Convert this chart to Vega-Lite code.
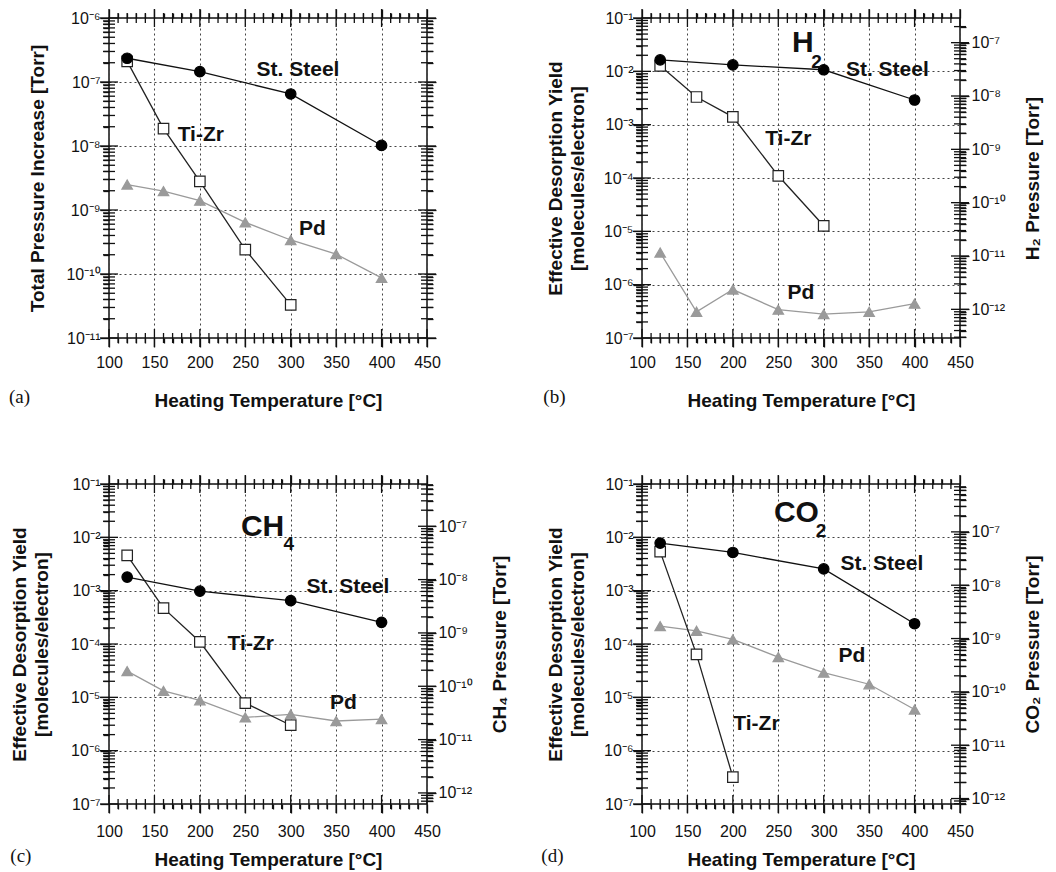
{
"$schema": "https://vega.github.io/schema/vega-lite/v6.json",
"background": "white",
"padding": {"left": 8, "top": 7, "right": 5, "bottom": 5},
"config": {
  "view": {"stroke": "#111", "strokeWidth": 1.5},
  "axis": {"labelFont": "Liberation Sans", "titleFont": "Liberation Sans", "labelColor": "#111", "titleColor": "#111", "labelFontSize": 16, "titleFontSize": 19, "titleFontWeight": "bold", "labelOverlap": false, "labelFlush": false},
  "text": {"font": "Liberation Sans"},
  "title": {"font": "Liberation Serif", "fontSize": 19, "fontWeight": "normal", "color": "#111"}
},
"datasets": {
  "a": [
    {"t":120,"v":2.5e-9,"s":"Pd"},{"t":160,"v":1.97e-9,"s":"Pd"},{"t":200,"v":1.4e-9,"s":"Pd"},{"t":250,"v":6.4e-10,"s":"Pd"},{"t":300,"v":3.4e-10,"s":"Pd"},{"t":350,"v":2.04e-10,"s":"Pd"},{"t":400,"v":8.7e-11,"s":"Pd"},
    {"t":120,"v":2.1e-7,"s":"Ti-Zr"},{"t":160,"v":1.87e-8,"s":"Ti-Zr"},{"t":200,"v":2.8e-9,"s":"Ti-Zr"},{"t":250,"v":2.4e-10,"s":"Ti-Zr"},{"t":300,"v":3.3e-11,"s":"Ti-Zr"},
    {"t":120,"v":2.35e-7,"s":"St. Steel"},{"t":200,"v":1.45e-7,"s":"St. Steel"},{"t":300,"v":6.5e-8,"s":"St. Steel"},{"t":400,"v":1.02e-8,"s":"St. Steel"}
  ],
  "b": [
    {"t":120,"v":4.0e-6,"s":"Pd"},{"t":160,"v":3.1e-7,"s":"Pd"},{"t":200,"v":8.1e-7,"s":"Pd"},{"t":250,"v":3.4e-7,"s":"Pd"},{"t":300,"v":2.8e-7,"s":"Pd"},{"t":350,"v":3.1e-7,"s":"Pd"},{"t":400,"v":4.4e-7,"s":"Pd"},
    {"t":120,"v":0.0127,"s":"Ti-Zr"},{"t":160,"v":0.0033,"s":"Ti-Zr"},{"t":200,"v":0.0014,"s":"Ti-Zr"},{"t":250,"v":1.1e-4,"s":"Ti-Zr"},{"t":300,"v":1.27e-5,"s":"Ti-Zr"},
    {"t":120,"v":0.0164,"s":"St. Steel"},{"t":200,"v":0.0132,"s":"St. Steel"},{"t":300,"v":0.0107,"s":"St. Steel"},{"t":400,"v":0.0029,"s":"St. Steel"}
  ],
  "c": [
    {"t":120,"v":3.1e-5,"s":"Pd"},{"t":160,"v":1.32e-5,"s":"Pd"},{"t":200,"v":8.8e-6,"s":"Pd"},{"t":250,"v":4.2e-6,"s":"Pd"},{"t":300,"v":4.8e-6,"s":"Pd"},{"t":350,"v":3.6e-6,"s":"Pd"},{"t":400,"v":3.9e-6,"s":"Pd"},
    {"t":120,"v":4.6e-3,"s":"Ti-Zr"},{"t":160,"v":4.7e-4,"s":"Ti-Zr"},{"t":200,"v":1.1e-4,"s":"Ti-Zr"},{"t":250,"v":7.8e-6,"s":"Ti-Zr"},{"t":300,"v":3.0e-6,"s":"Ti-Zr"},
    {"t":120,"v":1.8e-3,"s":"St. Steel"},{"t":200,"v":9.8e-4,"s":"St. Steel"},{"t":300,"v":6.5e-4,"s":"St. Steel"},{"t":400,"v":2.55e-4,"s":"St. Steel"}
  ],
  "d": [
    {"t":120,"v":2.16e-4,"s":"Pd"},{"t":160,"v":1.77e-4,"s":"Pd"},{"t":200,"v":1.22e-4,"s":"Pd"},{"t":250,"v":5.7e-5,"s":"Pd"},{"t":300,"v":2.9e-5,"s":"Pd"},{"t":350,"v":1.76e-5,"s":"Pd"},{"t":400,"v":5.9e-6,"s":"Pd"},
    {"t":120,"v":5.4e-3,"s":"Ti-Zr"},{"t":160,"v":6.4e-5,"s":"Ti-Zr"},{"t":200,"v":3.2e-7,"s":"Ti-Zr"},
    {"t":120,"v":7.8e-3,"s":"St. Steel"},{"t":200,"v":5.2e-3,"s":"St. Steel"},{"t":300,"v":2.56e-3,"s":"St. Steel"},{"t":400,"v":2.4e-4,"s":"St. Steel"}
  ],
  "a_lab": [
    {"t":308,"v":1.52e-7,"txt":"St. Steel","k":"series"},{"t":201,"v":1.5e-8,"txt":"Ti-Zr","k":"series"},{"t":324,"v":5.0e-10,"txt":"Pd","k":"series"}
  ],
  "b_lab": [
    {"t":370,"v":0.0108,"txt":"St. Steel","k":"series"},{"t":261,"v":5.4e-4,"txt":"Ti-Zr","k":"series"},{"t":275,"v":7.1e-7,"txt":"Pd","k":"series"},
    {"t":277,"v":0.0343,"txt":"H","k":"gas"},{"t":292,"v":0.0150,"txt":"2","k":"sub"}
  ],
  "c_lab": [
    {"t":363,"v":1.16e-3,"txt":"St. Steel","k":"series"},{"t":256,"v":1.02e-4,"txt":"Ti-Zr","k":"series"},{"t":358,"v":7.9e-6,"txt":"Pd","k":"series"},
    {"t":269,"v":0.0156,"txt":"CH","k":"gas"},{"t":298,"v":0.0075,"txt":"4","k":"sub"}
  ],
  "d_lab": [
    {"t":364,"v":3.1e-3,"txt":"St. Steel","k":"series"},{"t":331,"v":5.9e-5,"txt":"Pd","k":"series"},{"t":226,"v":3.2e-6,"txt":"Ti-Zr","k":"series"},
    {"t":270,"v":0.0285,"txt":"CO","k":"gas"},{"t":297,"v":0.0131,"txt":"2","k":"sub"}
  ],
  "xmaj": [{"v":100},{"v":150},{"v":200},{"v":250},{"v":300},{"v":350},{"v":400},{"v":450}],
  "xmin": [{"v":110},{"v":120},{"v":130},{"v":140},{"v":160},{"v":170},{"v":180},{"v":190},{"v":210},{"v":220},{"v":230},{"v":240},{"v":260},{"v":270},{"v":280},{"v":290},{"v":310},{"v":320},{"v":330},{"v":340},{"v":360},{"v":370},{"v":380},{"v":390},{"v":410},{"v":420},{"v":430},{"v":440}],
  "ya_maj": [{"v":1e-11},{"v":1e-10},{"v":1e-9},{"v":1e-8},{"v":1e-7},{"v":1e-6}],
  "ya_min": [{"v":2e-11},{"v":3e-11},{"v":4e-11},{"v":5e-11},{"v":6e-11},{"v":7e-11},{"v":8e-11},{"v":9e-11},{"v":2e-10},{"v":3e-10},{"v":4e-10},{"v":5e-10},{"v":6e-10},{"v":7e-10},{"v":8e-10},{"v":9e-10},{"v":2e-9},{"v":3e-9},{"v":4e-9},{"v":5e-9},{"v":6e-9},{"v":7e-9},{"v":8e-9},{"v":9e-9},{"v":2e-8},{"v":3e-8},{"v":4e-8},{"v":5e-8},{"v":6e-8},{"v":7e-8},{"v":8e-8},{"v":9e-8},{"v":2e-7},{"v":3e-7},{"v":4e-7},{"v":5e-7},{"v":6e-7},{"v":7e-7},{"v":8e-7},{"v":9e-7}],
  "yl_maj": [{"v":1e-7},{"v":1e-6},{"v":1e-5},{"v":1e-4},{"v":1e-3},{"v":1e-2},{"v":1e-1}],
  "yl_min": [{"v":2e-7},{"v":3e-7},{"v":4e-7},{"v":5e-7},{"v":6e-7},{"v":7e-7},{"v":8e-7},{"v":9e-7},{"v":2e-6},{"v":3e-6},{"v":4e-6},{"v":5e-6},{"v":6e-6},{"v":7e-6},{"v":8e-6},{"v":9e-6},{"v":2e-5},{"v":3e-5},{"v":4e-5},{"v":5e-5},{"v":6e-5},{"v":7e-5},{"v":8e-5},{"v":9e-5},{"v":2e-4},{"v":3e-4},{"v":4e-4},{"v":5e-4},{"v":6e-4},{"v":7e-4},{"v":8e-4},{"v":9e-4},{"v":2e-3},{"v":3e-3},{"v":4e-3},{"v":5e-3},{"v":6e-3},{"v":7e-3},{"v":8e-3},{"v":9e-3},{"v":2e-2},{"v":3e-2},{"v":4e-2},{"v":5e-2},{"v":6e-2},{"v":7e-2},{"v":8e-2},{"v":9e-2}],
  "yr_maj": [{"v":1e-12},{"v":1e-11},{"v":1e-10},{"v":1e-9},{"v":1e-8},{"v":1e-7}],
  "yrb_min": [{"v":3e-13},{"v":4e-13},{"v":5e-13},{"v":6e-13},{"v":7e-13},{"v":8e-13},{"v":9e-13},{"v":2e-12},{"v":3e-12},{"v":4e-12},{"v":5e-12},{"v":6e-12},{"v":7e-12},{"v":8e-12},{"v":9e-12},{"v":2e-11},{"v":3e-11},{"v":4e-11},{"v":5e-11},{"v":6e-11},{"v":7e-11},{"v":8e-11},{"v":9e-11},{"v":2e-10},{"v":3e-10},{"v":4e-10},{"v":5e-10},{"v":6e-10},{"v":7e-10},{"v":8e-10},{"v":9e-10},{"v":2e-9},{"v":3e-9},{"v":4e-9},{"v":5e-9},{"v":6e-9},{"v":7e-9},{"v":8e-9},{"v":9e-9},{"v":2e-8},{"v":3e-8},{"v":4e-8},{"v":5e-8},{"v":6e-8},{"v":7e-8},{"v":8e-8},{"v":9e-8},{"v":2e-7}],
  "yrc_min": [{"v":7e-13},{"v":8e-13},{"v":9e-13},{"v":2e-12},{"v":3e-12},{"v":4e-12},{"v":5e-12},{"v":6e-12},{"v":7e-12},{"v":8e-12},{"v":9e-12},{"v":2e-11},{"v":3e-11},{"v":4e-11},{"v":5e-11},{"v":6e-11},{"v":7e-11},{"v":8e-11},{"v":9e-11},{"v":2e-10},{"v":3e-10},{"v":4e-10},{"v":5e-10},{"v":6e-10},{"v":7e-10},{"v":8e-10},{"v":9e-10},{"v":2e-9},{"v":3e-9},{"v":4e-9},{"v":5e-9},{"v":6e-9},{"v":7e-9},{"v":8e-9},{"v":9e-9},{"v":2e-8},{"v":3e-8},{"v":4e-8},{"v":5e-8},{"v":6e-8},{"v":7e-8},{"v":8e-8},{"v":9e-8},{"v":2e-7},{"v":3e-7},{"v":4e-7},{"v":5e-7},{"v":6e-7}],
  "yrd_min": [{"v":8e-13},{"v":9e-13},{"v":2e-12},{"v":3e-12},{"v":4e-12},{"v":5e-12},{"v":6e-12},{"v":7e-12},{"v":8e-12},{"v":9e-12},{"v":2e-11},{"v":3e-11},{"v":4e-11},{"v":5e-11},{"v":6e-11},{"v":7e-11},{"v":8e-11},{"v":9e-11},{"v":2e-10},{"v":3e-10},{"v":4e-10},{"v":5e-10},{"v":6e-10},{"v":7e-10},{"v":8e-10},{"v":9e-10},{"v":2e-9},{"v":3e-9},{"v":4e-9},{"v":5e-9},{"v":6e-9},{"v":7e-9},{"v":8e-9},{"v":9e-9},{"v":2e-8},{"v":3e-8},{"v":4e-8},{"v":5e-8},{"v":6e-8},{"v":7e-8},{"v":8e-8},{"v":9e-8},{"v":2e-7},{"v":3e-7},{"v":4e-7},{"v":5e-7},{"v":6e-7},{"v":7e-7}]
},
"columns": 2,
"spacing": {"row": 146, "column": 215},
"bounds": "flush",
"concat": [
{
  "width": 318, "height": 320,
  "title": {"text": "(a)", "orient": "bottom", "anchor": "start", "frame": "bounds", "offset": 0, "dy": -22, "dx": -20},
  "resolve": {"scale": {"y": "independent"}, "axis": {"x": "independent", "y": "independent"}},
  "layer": [
    {"data": {"values": [{}]}, "mark": {"type": "point", "opacity": 0},
     "encoding": {
       "x": {"datum": 200, "type": "quantitative", "scale": {"type": "linear", "domain": [100, 450], "nice": false, "zero": false},
             "axis": {"orient": "bottom", "values": [100,150,200,250,300,350,400,450], "ticks": true, "tickSize": 9, "tickColor": "#111", "tickWidth": 1.3, "domain": false, "grid": true, "gridDash": [2,3], "gridColor": "#444", "labelPadding": 7, "title": "Heating Temperature [°C]", "titlePadding": 21}},
       "y": {"datum": 1e-8, "type": "quantitative", "scale": {"type": "log", "domain": [1e-11, 1e-6], "nice": false},
             "axis": {"orient": "left", "values": [1e-11,1e-10,1e-9,1e-8,1e-7,1e-6], "ticks": true, "tickSize": 9, "tickColor": "#111", "tickWidth": 1.3, "domain": false, "grid": true, "gridDash": [2,3], "gridColor": "#444", "labelPadding": 0, "labelExpr": "['10⁰','10⁻¹','10⁻²','10⁻³','10⁻⁴','10⁻⁵','10⁻⁶','10⁻⁷','10⁻⁸','10⁻⁹','10⁻¹⁰','10⁻¹¹','10⁻¹²','10⁻¹³'][round(-log(datum.value)/LN10)]", "title": "Total Pressure Increase  [Torr]", "titlePadding": 18}}}},
    {"data": {"values": [{}]}, "mark": {"type": "point", "opacity": 0},
     "encoding": {
       "x": {"datum": 200, "type": "quantitative", "scale": {"type": "linear", "domain": [100, 450], "nice": false, "zero": false},
             "axis": {"orient": "bottom", "values": [110,120,130,140,160,170,180,190,210,220,230,240,260,270,280,290,310,320,330,340,360,370,380,390,410,420,430,440], "labels": false, "domain": false, "grid": false, "tickSize": 5, "tickColor": "#111", "tickWidth": 1.3, "title": null}},
       "y": {"datum": 1e-8, "type": "quantitative", "scale": {"type": "log", "domain": [1e-11, 1e-6], "nice": false},
             "axis": {"orient": "left", "values": [2e-11,3e-11,4e-11,5e-11,6e-11,7e-11,8e-11,9e-11,2e-10,3e-10,4e-10,5e-10,6e-10,7e-10,8e-10,9e-10,2e-9,3e-9,4e-9,5e-9,6e-9,7e-9,8e-9,9e-9,2e-8,3e-8,4e-8,5e-8,6e-8,7e-8,8e-8,9e-8,2e-7,3e-7,4e-7,5e-7,6e-7,7e-7,8e-7,9e-7], "labels": false, "domain": false, "grid": false, "tickSize": 6, "tickColor": "#111", "tickWidth": 1.3, "title": null}}}},
    {"data": {"values": [{}]}, "mark": {"type": "point", "opacity": 0},
     "encoding": {
       "x": {"datum": 200, "type": "quantitative", "scale": {"type": "linear", "domain": [100, 450], "nice": false, "zero": false},
             "axis": {"orient": "top", "values": [100,150,200,250,300,350,400,450], "labels": false, "domain": false, "grid": false, "tickSize": 9, "tickColor": "#111", "tickWidth": 1.3, "title": null}},
       "y": {"datum": 1e-8, "type": "quantitative", "scale": {"type": "log", "domain": [1e-11, 1e-6], "nice": false},
             "axis": {"orient": "right", "values": [1e-11,1e-10,1e-9,1e-8,1e-7,1e-6], "labels": false, "domain": false, "grid": false, "tickSize": 9, "tickColor": "#111", "tickWidth": 1.3, "title": null}}}},
    {"data": {"values": [{}]}, "mark": {"type": "point", "opacity": 0},
     "encoding": {
       "x": {"datum": 200, "type": "quantitative", "scale": {"type": "linear", "domain": [100, 450], "nice": false, "zero": false},
             "axis": {"orient": "top", "values": [110,120,130,140,160,170,180,190,210,220,230,240,260,270,280,290,310,320,330,340,360,370,380,390,410,420,430,440], "labels": false, "domain": false, "grid": false, "tickSize": 5, "tickColor": "#111", "tickWidth": 1.3, "title": null}},
       "y": {"datum": 1e-8, "type": "quantitative", "scale": {"type": "log", "domain": [1e-11, 1e-6], "nice": false},
             "axis": {"orient": "right", "values": [2e-11,3e-11,4e-11,5e-11,6e-11,7e-11,8e-11,9e-11,2e-10,3e-10,4e-10,5e-10,6e-10,7e-10,8e-10,9e-10,2e-9,3e-9,4e-9,5e-9,6e-9,7e-9,8e-9,9e-9,2e-8,3e-8,4e-8,5e-8,6e-8,7e-8,8e-8,9e-8,2e-7,3e-7,4e-7,5e-7,6e-7,7e-7,8e-7,9e-7], "labels": false, "domain": false, "grid": false, "tickSize": 6, "tickColor": "#111", "tickWidth": 1.3, "title": null}}}},
    {"data": {"name": "xmaj"}, "mark": {"type": "tick", "orient": "vertical", "size": 18, "thickness": 1.3, "color": "#111", "opacity": 1},
     "encoding": {"x": {"field": "v", "type": "quantitative", "scale": {"type": "linear", "domain": [100, 450], "nice": false, "zero": false}, "axis": null},
                  "y": {"datum": 1e-11, "type": "quantitative", "scale": {"type": "log", "domain": [1e-11, 1e-6], "nice": false}, "axis": null}}},
    {"data": {"name": "xmaj"}, "mark": {"type": "tick", "orient": "vertical", "size": 18, "thickness": 1.3, "color": "#111", "opacity": 1},
     "encoding": {"x": {"field": "v", "type": "quantitative", "scale": {"type": "linear", "domain": [100, 450], "nice": false, "zero": false}, "axis": null},
                  "y": {"datum": 1e-6, "type": "quantitative", "scale": {"type": "log", "domain": [1e-11, 1e-6], "nice": false}, "axis": null}}},
    {"data": {"name": "xmin"}, "mark": {"type": "tick", "orient": "vertical", "size": 10, "thickness": 1.3, "color": "#111", "opacity": 1},
     "encoding": {"x": {"field": "v", "type": "quantitative", "scale": {"type": "linear", "domain": [100, 450], "nice": false, "zero": false}, "axis": null},
                  "y": {"datum": 1e-11, "type": "quantitative", "scale": {"type": "log", "domain": [1e-11, 1e-6], "nice": false}, "axis": null}}},
    {"data": {"name": "xmin"}, "mark": {"type": "tick", "orient": "vertical", "size": 10, "thickness": 1.3, "color": "#111", "opacity": 1},
     "encoding": {"x": {"field": "v", "type": "quantitative", "scale": {"type": "linear", "domain": [100, 450], "nice": false, "zero": false}, "axis": null},
                  "y": {"datum": 1e-6, "type": "quantitative", "scale": {"type": "log", "domain": [1e-11, 1e-6], "nice": false}, "axis": null}}},
    {"data": {"name": "ya_maj"}, "mark": {"type": "tick", "orient": "horizontal", "size": 18, "thickness": 1.3, "color": "#111", "opacity": 1},
     "encoding": {"x": {"datum": 100, "type": "quantitative", "scale": {"type": "linear", "domain": [100, 450], "nice": false, "zero": false}, "axis": null},
                  "y": {"field": "v", "type": "quantitative", "scale": {"type": "log", "domain": [1e-11, 1e-6], "nice": false}, "axis": null}}},
    {"data": {"name": "ya_maj"}, "mark": {"type": "tick", "orient": "horizontal", "size": 18, "thickness": 1.3, "color": "#111", "opacity": 1},
     "encoding": {"x": {"datum": 450, "type": "quantitative", "scale": {"type": "linear", "domain": [100, 450], "nice": false, "zero": false}, "axis": null},
                  "y": {"field": "v", "type": "quantitative", "scale": {"type": "log", "domain": [1e-11, 1e-6], "nice": false}, "axis": null}}},
    {"data": {"name": "ya_min"}, "mark": {"type": "tick", "orient": "horizontal", "size": 12, "thickness": 1.3, "color": "#111", "opacity": 1},
     "encoding": {"x": {"datum": 100, "type": "quantitative", "scale": {"type": "linear", "domain": [100, 450], "nice": false, "zero": false}, "axis": null},
                  "y": {"field": "v", "type": "quantitative", "scale": {"type": "log", "domain": [1e-11, 1e-6], "nice": false}, "axis": null}}},
    {"data": {"name": "ya_min"}, "mark": {"type": "tick", "orient": "horizontal", "size": 12, "thickness": 1.3, "color": "#111", "opacity": 1},
     "encoding": {"x": {"datum": 450, "type": "quantitative", "scale": {"type": "linear", "domain": [100, 450], "nice": false, "zero": false}, "axis": null},
                  "y": {"field": "v", "type": "quantitative", "scale": {"type": "log", "domain": [1e-11, 1e-6], "nice": false}, "axis": null}}},
    {"data": {"name": "a"}, "mark": {"type": "line", "strokeWidth": 1.3},
     "encoding": {
       "x": {"field": "t", "type": "quantitative", "scale": {"type": "linear", "domain": [100, 450], "nice": false, "zero": false}, "axis": null},
       "y": {"field": "v", "type": "quantitative", "scale": {"type": "log", "domain": [1e-11, 1e-6], "nice": false}, "axis": null},
       "color": {"field": "s", "type": "nominal", "scale": {"domain": ["St. Steel","Ti-Zr","Pd"], "range": ["#111","#222","#9a9a9a"]}, "legend": null}}},
    {"data": {"name": "a"}, "mark": {"type": "point", "filled": true, "opacity": 1, "size": 110, "strokeWidth": 1.2},
     "encoding": {
       "x": {"field": "t", "type": "quantitative", "scale": {"type": "linear", "domain": [100, 450], "nice": false, "zero": false}, "axis": null},
       "y": {"field": "v", "type": "quantitative", "scale": {"type": "log", "domain": [1e-11, 1e-6], "nice": false}, "axis": null},
       "shape": {"field": "s", "type": "nominal", "scale": {"domain": ["St. Steel","Ti-Zr","Pd"], "range": ["circle","square","triangle-up"]}, "legend": null},
       "fill": {"field": "s", "type": "nominal", "scale": {"domain": ["St. Steel","Ti-Zr","Pd"], "range": ["#000","#fff","#9a9a9a"]}, "legend": null},
       "stroke": {"field": "s", "type": "nominal", "scale": {"domain": ["St. Steel","Ti-Zr","Pd"], "range": ["#000","#222","#9a9a9a"]}, "legend": null}}},
    {"data": {"name": "a_lab"}, "transform": [{"filter": "datum.k === 'series'"}],
     "mark": {"type": "text", "fontWeight": "bold", "fontSize": 21, "align": "center", "baseline": "middle", "color": "#111"},
     "encoding": {
       "x": {"field": "t", "type": "quantitative", "scale": {"type": "linear", "domain": [100, 450], "nice": false, "zero": false}, "axis": null},
       "y": {"field": "v", "type": "quantitative", "scale": {"type": "log", "domain": [1e-11, 1e-6], "nice": false}, "axis": null},
       "text": {"field": "txt"}}}
  ]
},
{
  "width": 318, "height": 320,
  "title": {"text": "(b)", "orient": "bottom", "anchor": "start", "frame": "bounds", "offset": 0, "dy": -22, "dx": -3},
  "resolve": {"scale": {"y": "independent"}, "axis": {"x": "independent", "y": "independent"}},
  "layer": [
    {"data": {"values": [{}]}, "mark": {"type": "point", "opacity": 0},
     "encoding": {
       "x": {"datum": 200, "type": "quantitative", "scale": {"type": "linear", "domain": [100, 450], "nice": false, "zero": false},
             "axis": {"orient": "bottom", "values": [100,150,200,250,300,350,400,450], "ticks": true, "tickSize": 9, "tickColor": "#111", "tickWidth": 1.3, "domain": false, "grid": true, "gridDash": [2,3], "gridColor": "#444", "labelPadding": 7, "title": "Heating Temperature [°C]", "titlePadding": 21}},
       "y": {"datum": 1e-4, "type": "quantitative", "scale": {"type": "log", "domain": [1e-7, 0.1], "nice": false},
             "axis": {"orient": "left", "values": [1e-7,1e-6,1e-5,1e-4,1e-3,1e-2,1e-1], "ticks": true, "tickSize": 9, "tickColor": "#111", "tickWidth": 1.3, "domain": false, "grid": true, "gridDash": [2,3], "gridColor": "#444", "labelPadding": 0, "labelExpr": "['10⁰','10⁻¹','10⁻²','10⁻³','10⁻⁴','10⁻⁵','10⁻⁶','10⁻⁷','10⁻⁸','10⁻⁹','10⁻¹⁰','10⁻¹¹','10⁻¹²','10⁻¹³'][round(-log(datum.value)/LN10)]", "title": ["Effective Desorption Yield", "[molecules/electron]"], "titleLineHeight": 22, "titlePadding": 16}}}},
    {"data": {"values": [{}]}, "mark": {"type": "point", "opacity": 0},
     "encoding": {
       "x": {"datum": 200, "type": "quantitative", "scale": {"type": "linear", "domain": [100, 450], "nice": false, "zero": false},
             "axis": {"orient": "bottom", "values": [110,120,130,140,160,170,180,190,210,220,230,240,260,270,280,290,310,320,330,340,360,370,380,390,410,420,430,440], "labels": false, "domain": false, "grid": false, "tickSize": 5, "tickColor": "#111", "tickWidth": 1.3, "title": null}},
       "y": {"datum": 1e-4, "type": "quantitative", "scale": {"type": "log", "domain": [1e-7, 0.1], "nice": false},
             "axis": {"orient": "left", "values": [2e-7,3e-7,4e-7,5e-7,6e-7,7e-7,8e-7,9e-7,2e-6,3e-6,4e-6,5e-6,6e-6,7e-6,8e-6,9e-6,2e-5,3e-5,4e-5,5e-5,6e-5,7e-5,8e-5,9e-5,2e-4,3e-4,4e-4,5e-4,6e-4,7e-4,8e-4,9e-4,2e-3,3e-3,4e-3,5e-3,6e-3,7e-3,8e-3,9e-3,2e-2,3e-2,4e-2,5e-2,6e-2,7e-2,8e-2,9e-2], "labels": false, "domain": false, "grid": false, "tickSize": 6, "tickColor": "#111", "tickWidth": 1.3, "title": null}}}},
    {"data": {"values": [{}]}, "mark": {"type": "point", "opacity": 0},
     "encoding": {
       "x": {"datum": 200, "type": "quantitative", "scale": {"type": "linear", "domain": [100, 450], "nice": false, "zero": false},
             "axis": {"orient": "top", "values": [100,150,200,250,300,350,400,450], "labels": false, "domain": false, "grid": false, "tickSize": 9, "tickColor": "#111", "tickWidth": 1.3, "title": null}},
       "y": {"datum": 1e-9, "type": "quantitative", "scale": {"type": "log", "domain": [2.9e-13, 2.9e-7], "nice": false},
             "axis": {"orient": "right", "values": [1e-12,1e-11,1e-10,1e-9,1e-8,1e-7], "ticks": true, "tickSize": 9, "tickColor": "#111", "tickWidth": 1.3, "domain": false, "grid": false, "labelPadding": 2, "labelExpr": "['10⁰','10⁻¹','10⁻²','10⁻³','10⁻⁴','10⁻⁵','10⁻⁶','10⁻⁷','10⁻⁸','10⁻⁹','10⁻¹⁰','10⁻¹¹','10⁻¹²','10⁻¹³'][round(-log(datum.value)/LN10)]", "title": "H₂ Pressure [Torr]", "titleAngle": 270, "titleBaseline": "top", "titlePadding": 18}}}},
    {"data": {"values": [{}]}, "mark": {"type": "point", "opacity": 0},
     "encoding": {
       "x": {"datum": 200, "type": "quantitative", "scale": {"type": "linear", "domain": [100, 450], "nice": false, "zero": false},
             "axis": {"orient": "top", "values": [110,120,130,140,160,170,180,190,210,220,230,240,260,270,280,290,310,320,330,340,360,370,380,390,410,420,430,440], "labels": false, "domain": false, "grid": false, "tickSize": 5, "tickColor": "#111", "tickWidth": 1.3, "title": null}},
       "y": {"datum": 1e-9, "type": "quantitative", "scale": {"type": "log", "domain": [2.9e-13, 2.9e-7], "nice": false},
             "axis": {"orient": "right", "values": [3e-13,4e-13,5e-13,6e-13,7e-13,8e-13,9e-13,2e-12,3e-12,4e-12,5e-12,6e-12,7e-12,8e-12,9e-12,2e-11,3e-11,4e-11,5e-11,6e-11,7e-11,8e-11,9e-11,2e-10,3e-10,4e-10,5e-10,6e-10,7e-10,8e-10,9e-10,2e-9,3e-9,4e-9,5e-9,6e-9,7e-9,8e-9,9e-9,2e-8,3e-8,4e-8,5e-8,6e-8,7e-8,8e-8,9e-8,2e-7], "labels": false, "domain": false, "grid": false, "tickSize": 6, "tickColor": "#111", "tickWidth": 1.3, "title": null}}}},
    {"data": {"name": "xmaj"}, "mark": {"type": "tick", "orient": "vertical", "size": 18, "thickness": 1.3, "color": "#111", "opacity": 1},
     "encoding": {"x": {"field": "v", "type": "quantitative", "scale": {"type": "linear", "domain": [100, 450], "nice": false, "zero": false}, "axis": null},
                  "y": {"datum": 1e-7, "type": "quantitative", "scale": {"type": "log", "domain": [1e-7, 0.1], "nice": false}, "axis": null}}},
    {"data": {"name": "xmaj"}, "mark": {"type": "tick", "orient": "vertical", "size": 18, "thickness": 1.3, "color": "#111", "opacity": 1},
     "encoding": {"x": {"field": "v", "type": "quantitative", "scale": {"type": "linear", "domain": [100, 450], "nice": false, "zero": false}, "axis": null},
                  "y": {"datum": 0.1, "type": "quantitative", "scale": {"type": "log", "domain": [1e-7, 0.1], "nice": false}, "axis": null}}},
    {"data": {"name": "xmin"}, "mark": {"type": "tick", "orient": "vertical", "size": 10, "thickness": 1.3, "color": "#111", "opacity": 1},
     "encoding": {"x": {"field": "v", "type": "quantitative", "scale": {"type": "linear", "domain": [100, 450], "nice": false, "zero": false}, "axis": null},
                  "y": {"datum": 1e-7, "type": "quantitative", "scale": {"type": "log", "domain": [1e-7, 0.1], "nice": false}, "axis": null}}},
    {"data": {"name": "xmin"}, "mark": {"type": "tick", "orient": "vertical", "size": 10, "thickness": 1.3, "color": "#111", "opacity": 1},
     "encoding": {"x": {"field": "v", "type": "quantitative", "scale": {"type": "linear", "domain": [100, 450], "nice": false, "zero": false}, "axis": null},
                  "y": {"datum": 0.1, "type": "quantitative", "scale": {"type": "log", "domain": [1e-7, 0.1], "nice": false}, "axis": null}}},
    {"data": {"name": "yl_maj"}, "mark": {"type": "tick", "orient": "horizontal", "size": 18, "thickness": 1.3, "color": "#111", "opacity": 1},
     "encoding": {"x": {"datum": 100, "type": "quantitative", "scale": {"type": "linear", "domain": [100, 450], "nice": false, "zero": false}, "axis": null},
                  "y": {"field": "v", "type": "quantitative", "scale": {"type": "log", "domain": [1e-7, 0.1], "nice": false}, "axis": null}}},
    {"data": {"name": "yl_min"}, "mark": {"type": "tick", "orient": "horizontal", "size": 12, "thickness": 1.3, "color": "#111", "opacity": 1},
     "encoding": {"x": {"datum": 100, "type": "quantitative", "scale": {"type": "linear", "domain": [100, 450], "nice": false, "zero": false}, "axis": null},
                  "y": {"field": "v", "type": "quantitative", "scale": {"type": "log", "domain": [1e-7, 0.1], "nice": false}, "axis": null}}},
    {"data": {"name": "yr_maj"}, "mark": {"type": "tick", "orient": "horizontal", "size": 18, "thickness": 1.3, "color": "#111", "opacity": 1},
     "encoding": {"x": {"datum": 450, "type": "quantitative", "scale": {"type": "linear", "domain": [100, 450], "nice": false, "zero": false}, "axis": null},
                  "y": {"field": "v", "type": "quantitative", "scale": {"type": "log", "domain": [2.9e-13, 2.9e-7], "nice": false}, "axis": null}}},
    {"data": {"name": "yrb_min"}, "mark": {"type": "tick", "orient": "horizontal", "size": 12, "thickness": 1.3, "color": "#111", "opacity": 1},
     "encoding": {"x": {"datum": 450, "type": "quantitative", "scale": {"type": "linear", "domain": [100, 450], "nice": false, "zero": false}, "axis": null},
                  "y": {"field": "v", "type": "quantitative", "scale": {"type": "log", "domain": [2.9e-13, 2.9e-7], "nice": false}, "axis": null}}},
    {"data": {"name": "b"}, "mark": {"type": "line", "strokeWidth": 1.3},
     "encoding": {
       "x": {"field": "t", "type": "quantitative", "scale": {"type": "linear", "domain": [100, 450], "nice": false, "zero": false}, "axis": null},
       "y": {"field": "v", "type": "quantitative", "scale": {"type": "log", "domain": [1e-7, 0.1], "nice": false}, "axis": null},
       "color": {"field": "s", "type": "nominal", "scale": {"domain": ["St. Steel","Ti-Zr","Pd"], "range": ["#111","#222","#9a9a9a"]}, "legend": null}}},
    {"data": {"name": "b"}, "mark": {"type": "point", "filled": true, "opacity": 1, "size": 110, "strokeWidth": 1.2},
     "encoding": {
       "x": {"field": "t", "type": "quantitative", "scale": {"type": "linear", "domain": [100, 450], "nice": false, "zero": false}, "axis": null},
       "y": {"field": "v", "type": "quantitative", "scale": {"type": "log", "domain": [1e-7, 0.1], "nice": false}, "axis": null},
       "shape": {"field": "s", "type": "nominal", "scale": {"domain": ["St. Steel","Ti-Zr","Pd"], "range": ["circle","square","triangle-up"]}, "legend": null},
       "fill": {"field": "s", "type": "nominal", "scale": {"domain": ["St. Steel","Ti-Zr","Pd"], "range": ["#000","#fff","#9a9a9a"]}, "legend": null},
       "stroke": {"field": "s", "type": "nominal", "scale": {"domain": ["St. Steel","Ti-Zr","Pd"], "range": ["#000","#222","#9a9a9a"]}, "legend": null}}},
    {"data": {"name": "b_lab"}, "transform": [{"filter": "datum.k === 'series'"}],
     "mark": {"type": "text", "fontWeight": "bold", "fontSize": 21, "align": "center", "baseline": "middle", "color": "#111"},
     "encoding": {
       "x": {"field": "t", "type": "quantitative", "scale": {"type": "linear", "domain": [100, 450], "nice": false, "zero": false}, "axis": null},
       "y": {"field": "v", "type": "quantitative", "scale": {"type": "log", "domain": [1e-7, 0.1], "nice": false}, "axis": null},
       "text": {"field": "txt"}}},
    {"data": {"name": "b_lab"}, "transform": [{"filter": "datum.k === 'gas'"}],
     "mark": {"type": "text", "fontWeight": "bold", "fontSize": 30, "align": "center", "baseline": "middle", "color": "#111"},
     "encoding": {
       "x": {"field": "t", "type": "quantitative", "scale": {"type": "linear", "domain": [100, 450], "nice": false, "zero": false}, "axis": null},
       "y": {"field": "v", "type": "quantitative", "scale": {"type": "log", "domain": [1e-7, 0.1], "nice": false}, "axis": null},
       "text": {"field": "txt"}}},
    {"data": {"name": "b_lab"}, "transform": [{"filter": "datum.k === 'sub'"}],
     "mark": {"type": "text", "fontWeight": "bold", "fontSize": 19, "align": "center", "baseline": "middle", "color": "#111"},
     "encoding": {
       "x": {"field": "t", "type": "quantitative", "scale": {"type": "linear", "domain": [100, 450], "nice": false, "zero": false}, "axis": null},
       "y": {"field": "v", "type": "quantitative", "scale": {"type": "log", "domain": [1e-7, 0.1], "nice": false}, "axis": null},
       "text": {"field": "txt"}}}
  ]
},
{
  "width": 318, "height": 320,
  "title": {"text": "(c)", "orient": "bottom", "anchor": "start", "frame": "bounds", "offset": 0, "dy": -22, "dx": 0},
  "resolve": {"scale": {"y": "independent"}, "axis": {"x": "independent", "y": "independent"}},
  "layer": [
    {"data": {"values": [{}]}, "mark": {"type": "point", "opacity": 0},
     "encoding": {
       "x": {"datum": 200, "type": "quantitative", "scale": {"type": "linear", "domain": [100, 450], "nice": false, "zero": false},
             "axis": {"orient": "bottom", "values": [100,150,200,250,300,350,400,450], "ticks": true, "tickSize": 9, "tickColor": "#111", "tickWidth": 1.3, "domain": false, "grid": true, "gridDash": [2,3], "gridColor": "#444", "labelPadding": 10, "title": "Heating Temperature [°C]", "titlePadding": 11}},
       "y": {"datum": 1e-4, "type": "quantitative", "scale": {"type": "log", "domain": [1e-7, 0.1], "nice": false},
             "axis": {"orient": "left", "values": [1e-7,1e-6,1e-5,1e-4,1e-3,1e-2,1e-1], "ticks": true, "tickSize": 9, "tickColor": "#111", "tickWidth": 1.3, "domain": false, "grid": true, "gridDash": [2,3], "gridColor": "#444", "labelPadding": 0, "labelExpr": "['10⁰','10⁻¹','10⁻²','10⁻³','10⁻⁴','10⁻⁵','10⁻⁶','10⁻⁷','10⁻⁸','10⁻⁹','10⁻¹⁰','10⁻¹¹','10⁻¹²','10⁻¹³'][round(-log(datum.value)/LN10)]", "title": ["Effective Desorption Yield", "[molecules/electron]"], "titleLineHeight": 22, "titlePadding": 19}}}},
    {"data": {"values": [{}]}, "mark": {"type": "point", "opacity": 0},
     "encoding": {
       "x": {"datum": 200, "type": "quantitative", "scale": {"type": "linear", "domain": [100, 450], "nice": false, "zero": false},
             "axis": {"orient": "bottom", "values": [110,120,130,140,160,170,180,190,210,220,230,240,260,270,280,290,310,320,330,340,360,370,380,390,410,420,430,440], "labels": false, "domain": false, "grid": false, "tickSize": 5, "tickColor": "#111", "tickWidth": 1.3, "title": null}},
       "y": {"datum": 1e-4, "type": "quantitative", "scale": {"type": "log", "domain": [1e-7, 0.1], "nice": false},
             "axis": {"orient": "left", "values": [2e-7,3e-7,4e-7,5e-7,6e-7,7e-7,8e-7,9e-7,2e-6,3e-6,4e-6,5e-6,6e-6,7e-6,8e-6,9e-6,2e-5,3e-5,4e-5,5e-5,6e-5,7e-5,8e-5,9e-5,2e-4,3e-4,4e-4,5e-4,6e-4,7e-4,8e-4,9e-4,2e-3,3e-3,4e-3,5e-3,6e-3,7e-3,8e-3,9e-3,2e-2,3e-2,4e-2,5e-2,6e-2,7e-2,8e-2,9e-2], "labels": false, "domain": false, "grid": false, "tickSize": 6, "tickColor": "#111", "tickWidth": 1.3, "title": null}}}},
    {"data": {"values": [{}]}, "mark": {"type": "point", "opacity": 0},
     "encoding": {
       "x": {"datum": 200, "type": "quantitative", "scale": {"type": "linear", "domain": [100, 450], "nice": false, "zero": false},
             "axis": {"orient": "top", "values": [100,150,200,250,300,350,400,450], "labels": false, "domain": false, "grid": false, "tickSize": 9, "tickColor": "#111", "tickWidth": 1.3, "title": null}},
       "y": {"datum": 1e-9, "type": "quantitative", "scale": {"type": "log", "domain": [6.2e-13, 6.2e-7], "nice": false},
             "axis": {"orient": "right", "values": [1e-12,1e-11,1e-10,1e-9,1e-8,1e-7], "ticks": true, "tickSize": 9, "tickColor": "#111", "tickWidth": 1.3, "domain": false, "grid": false, "labelPadding": 2, "labelExpr": "['10⁰','10⁻¹','10⁻²','10⁻³','10⁻⁴','10⁻⁵','10⁻⁶','10⁻⁷','10⁻⁸','10⁻⁹','10⁻¹⁰','10⁻¹¹','10⁻¹²','10⁻¹³'][round(-log(datum.value)/LN10)]", "title": "CH₄ Pressure [Torr]", "titleAngle": 270, "titleBaseline": "top", "titlePadding": 18}}}},
    {"data": {"values": [{}]}, "mark": {"type": "point", "opacity": 0},
     "encoding": {
       "x": {"datum": 200, "type": "quantitative", "scale": {"type": "linear", "domain": [100, 450], "nice": false, "zero": false},
             "axis": {"orient": "top", "values": [110,120,130,140,160,170,180,190,210,220,230,240,260,270,280,290,310,320,330,340,360,370,380,390,410,420,430,440], "labels": false, "domain": false, "grid": false, "tickSize": 5, "tickColor": "#111", "tickWidth": 1.3, "title": null}},
       "y": {"datum": 1e-9, "type": "quantitative", "scale": {"type": "log", "domain": [6.2e-13, 6.2e-7], "nice": false},
             "axis": {"orient": "right", "values": [7e-13,8e-13,9e-13,2e-12,3e-12,4e-12,5e-12,6e-12,7e-12,8e-12,9e-12,2e-11,3e-11,4e-11,5e-11,6e-11,7e-11,8e-11,9e-11,2e-10,3e-10,4e-10,5e-10,6e-10,7e-10,8e-10,9e-10,2e-9,3e-9,4e-9,5e-9,6e-9,7e-9,8e-9,9e-9,2e-8,3e-8,4e-8,5e-8,6e-8,7e-8,8e-8,9e-8,2e-7,3e-7,4e-7,5e-7,6e-7], "labels": false, "domain": false, "grid": false, "tickSize": 6, "tickColor": "#111", "tickWidth": 1.3, "title": null}}}},
    {"data": {"name": "xmaj"}, "mark": {"type": "tick", "orient": "vertical", "size": 18, "thickness": 1.3, "color": "#111", "opacity": 1},
     "encoding": {"x": {"field": "v", "type": "quantitative", "scale": {"type": "linear", "domain": [100, 450], "nice": false, "zero": false}, "axis": null},
                  "y": {"datum": 1e-7, "type": "quantitative", "scale": {"type": "log", "domain": [1e-7, 0.1], "nice": false}, "axis": null}}},
    {"data": {"name": "xmaj"}, "mark": {"type": "tick", "orient": "vertical", "size": 18, "thickness": 1.3, "color": "#111", "opacity": 1},
     "encoding": {"x": {"field": "v", "type": "quantitative", "scale": {"type": "linear", "domain": [100, 450], "nice": false, "zero": false}, "axis": null},
                  "y": {"datum": 0.1, "type": "quantitative", "scale": {"type": "log", "domain": [1e-7, 0.1], "nice": false}, "axis": null}}},
    {"data": {"name": "xmin"}, "mark": {"type": "tick", "orient": "vertical", "size": 10, "thickness": 1.3, "color": "#111", "opacity": 1},
     "encoding": {"x": {"field": "v", "type": "quantitative", "scale": {"type": "linear", "domain": [100, 450], "nice": false, "zero": false}, "axis": null},
                  "y": {"datum": 1e-7, "type": "quantitative", "scale": {"type": "log", "domain": [1e-7, 0.1], "nice": false}, "axis": null}}},
    {"data": {"name": "xmin"}, "mark": {"type": "tick", "orient": "vertical", "size": 10, "thickness": 1.3, "color": "#111", "opacity": 1},
     "encoding": {"x": {"field": "v", "type": "quantitative", "scale": {"type": "linear", "domain": [100, 450], "nice": false, "zero": false}, "axis": null},
                  "y": {"datum": 0.1, "type": "quantitative", "scale": {"type": "log", "domain": [1e-7, 0.1], "nice": false}, "axis": null}}},
    {"data": {"name": "yl_maj"}, "mark": {"type": "tick", "orient": "horizontal", "size": 18, "thickness": 1.3, "color": "#111", "opacity": 1},
     "encoding": {"x": {"datum": 100, "type": "quantitative", "scale": {"type": "linear", "domain": [100, 450], "nice": false, "zero": false}, "axis": null},
                  "y": {"field": "v", "type": "quantitative", "scale": {"type": "log", "domain": [1e-7, 0.1], "nice": false}, "axis": null}}},
    {"data": {"name": "yl_min"}, "mark": {"type": "tick", "orient": "horizontal", "size": 12, "thickness": 1.3, "color": "#111", "opacity": 1},
     "encoding": {"x": {"datum": 100, "type": "quantitative", "scale": {"type": "linear", "domain": [100, 450], "nice": false, "zero": false}, "axis": null},
                  "y": {"field": "v", "type": "quantitative", "scale": {"type": "log", "domain": [1e-7, 0.1], "nice": false}, "axis": null}}},
    {"data": {"name": "yr_maj"}, "mark": {"type": "tick", "orient": "horizontal", "size": 18, "thickness": 1.3, "color": "#111", "opacity": 1},
     "encoding": {"x": {"datum": 450, "type": "quantitative", "scale": {"type": "linear", "domain": [100, 450], "nice": false, "zero": false}, "axis": null},
                  "y": {"field": "v", "type": "quantitative", "scale": {"type": "log", "domain": [6.2e-13, 6.2e-7], "nice": false}, "axis": null}}},
    {"data": {"name": "yrc_min"}, "mark": {"type": "tick", "orient": "horizontal", "size": 12, "thickness": 1.3, "color": "#111", "opacity": 1},
     "encoding": {"x": {"datum": 450, "type": "quantitative", "scale": {"type": "linear", "domain": [100, 450], "nice": false, "zero": false}, "axis": null},
                  "y": {"field": "v", "type": "quantitative", "scale": {"type": "log", "domain": [6.2e-13, 6.2e-7], "nice": false}, "axis": null}}},
    {"data": {"name": "c"}, "mark": {"type": "line", "strokeWidth": 1.3},
     "encoding": {
       "x": {"field": "t", "type": "quantitative", "scale": {"type": "linear", "domain": [100, 450], "nice": false, "zero": false}, "axis": null},
       "y": {"field": "v", "type": "quantitative", "scale": {"type": "log", "domain": [1e-7, 0.1], "nice": false}, "axis": null},
       "color": {"field": "s", "type": "nominal", "scale": {"domain": ["St. Steel","Ti-Zr","Pd"], "range": ["#111","#222","#9a9a9a"]}, "legend": null}}},
    {"data": {"name": "c"}, "mark": {"type": "point", "filled": true, "opacity": 1, "size": 110, "strokeWidth": 1.2},
     "encoding": {
       "x": {"field": "t", "type": "quantitative", "scale": {"type": "linear", "domain": [100, 450], "nice": false, "zero": false}, "axis": null},
       "y": {"field": "v", "type": "quantitative", "scale": {"type": "log", "domain": [1e-7, 0.1], "nice": false}, "axis": null},
       "shape": {"field": "s", "type": "nominal", "scale": {"domain": ["St. Steel","Ti-Zr","Pd"], "range": ["circle","square","triangle-up"]}, "legend": null},
       "fill": {"field": "s", "type": "nominal", "scale": {"domain": ["St. Steel","Ti-Zr","Pd"], "range": ["#000","#fff","#9a9a9a"]}, "legend": null},
       "stroke": {"field": "s", "type": "nominal", "scale": {"domain": ["St. Steel","Ti-Zr","Pd"], "range": ["#000","#222","#9a9a9a"]}, "legend": null}}},
    {"data": {"name": "c_lab"}, "transform": [{"filter": "datum.k === 'series'"}],
     "mark": {"type": "text", "fontWeight": "bold", "fontSize": 21, "align": "center", "baseline": "middle", "color": "#111"},
     "encoding": {
       "x": {"field": "t", "type": "quantitative", "scale": {"type": "linear", "domain": [100, 450], "nice": false, "zero": false}, "axis": null},
       "y": {"field": "v", "type": "quantitative", "scale": {"type": "log", "domain": [1e-7, 0.1], "nice": false}, "axis": null},
       "text": {"field": "txt"}}},
    {"data": {"name": "c_lab"}, "transform": [{"filter": "datum.k === 'gas'"}],
     "mark": {"type": "text", "fontWeight": "bold", "fontSize": 30, "align": "center", "baseline": "middle", "color": "#111"},
     "encoding": {
       "x": {"field": "t", "type": "quantitative", "scale": {"type": "linear", "domain": [100, 450], "nice": false, "zero": false}, "axis": null},
       "y": {"field": "v", "type": "quantitative", "scale": {"type": "log", "domain": [1e-7, 0.1], "nice": false}, "axis": null},
       "text": {"field": "txt"}}},
    {"data": {"name": "c_lab"}, "transform": [{"filter": "datum.k === 'sub'"}],
     "mark": {"type": "text", "fontWeight": "bold", "fontSize": 19, "align": "center", "baseline": "middle", "color": "#111"},
     "encoding": {
       "x": {"field": "t", "type": "quantitative", "scale": {"type": "linear", "domain": [100, 450], "nice": false, "zero": false}, "axis": null},
       "y": {"field": "v", "type": "quantitative", "scale": {"type": "log", "domain": [1e-7, 0.1], "nice": false}, "axis": null},
       "text": {"field": "txt"}}}
  ]
},
{
  "width": 318, "height": 320,
  "title": {"text": "(d)", "orient": "bottom", "anchor": "start", "frame": "bounds", "offset": 0, "dy": -22, "dx": -5},
  "resolve": {"scale": {"y": "independent"}, "axis": {"x": "independent", "y": "independent"}},
  "layer": [
    {"data": {"values": [{}]}, "mark": {"type": "point", "opacity": 0},
     "encoding": {
       "x": {"datum": 200, "type": "quantitative", "scale": {"type": "linear", "domain": [100, 450], "nice": false, "zero": false},
             "axis": {"orient": "bottom", "values": [100,150,200,250,300,350,400,450], "ticks": true, "tickSize": 9, "tickColor": "#111", "tickWidth": 1.3, "domain": false, "grid": true, "gridDash": [2,3], "gridColor": "#444", "labelPadding": 10, "title": "Heating Temperature [°C]", "titlePadding": 11}},
       "y": {"datum": 1e-4, "type": "quantitative", "scale": {"type": "log", "domain": [1e-7, 0.1], "nice": false},
             "axis": {"orient": "left", "values": [1e-7,1e-6,1e-5,1e-4,1e-3,1e-2,1e-1], "ticks": true, "tickSize": 9, "tickColor": "#111", "tickWidth": 1.3, "domain": false, "grid": true, "gridDash": [2,3], "gridColor": "#444", "labelPadding": 0, "labelExpr": "['10⁰','10⁻¹','10⁻²','10⁻³','10⁻⁴','10⁻⁵','10⁻⁶','10⁻⁷','10⁻⁸','10⁻⁹','10⁻¹⁰','10⁻¹¹','10⁻¹²','10⁻¹³'][round(-log(datum.value)/LN10)]", "title": ["Effective Desorption Yield", "[molecules/electron]"], "titleLineHeight": 22, "titlePadding": 16}}}},
    {"data": {"values": [{}]}, "mark": {"type": "point", "opacity": 0},
     "encoding": {
       "x": {"datum": 200, "type": "quantitative", "scale": {"type": "linear", "domain": [100, 450], "nice": false, "zero": false},
             "axis": {"orient": "bottom", "values": [110,120,130,140,160,170,180,190,210,220,230,240,260,270,280,290,310,320,330,340,360,370,380,390,410,420,430,440], "labels": false, "domain": false, "grid": false, "tickSize": 5, "tickColor": "#111", "tickWidth": 1.3, "title": null}},
       "y": {"datum": 1e-4, "type": "quantitative", "scale": {"type": "log", "domain": [1e-7, 0.1], "nice": false},
             "axis": {"orient": "left", "values": [2e-7,3e-7,4e-7,5e-7,6e-7,7e-7,8e-7,9e-7,2e-6,3e-6,4e-6,5e-6,6e-6,7e-6,8e-6,9e-6,2e-5,3e-5,4e-5,5e-5,6e-5,7e-5,8e-5,9e-5,2e-4,3e-4,4e-4,5e-4,6e-4,7e-4,8e-4,9e-4,2e-3,3e-3,4e-3,5e-3,6e-3,7e-3,8e-3,9e-3,2e-2,3e-2,4e-2,5e-2,6e-2,7e-2,8e-2,9e-2], "labels": false, "domain": false, "grid": false, "tickSize": 6, "tickColor": "#111", "tickWidth": 1.3, "title": null}}}},
    {"data": {"values": [{}]}, "mark": {"type": "point", "opacity": 0},
     "encoding": {
       "x": {"datum": 200, "type": "quantitative", "scale": {"type": "linear", "domain": [100, 450], "nice": false, "zero": false},
             "axis": {"orient": "top", "values": [100,150,200,250,300,350,400,450], "labels": false, "domain": false, "grid": false, "tickSize": 9, "tickColor": "#111", "tickWidth": 1.3, "title": null}},
       "y": {"datum": 1e-9, "type": "quantitative", "scale": {"type": "log", "domain": [7.9e-13, 7.9e-7], "nice": false},
             "axis": {"orient": "right", "values": [1e-12,1e-11,1e-10,1e-9,1e-8,1e-7], "ticks": true, "tickSize": 9, "tickColor": "#111", "tickWidth": 1.3, "domain": false, "grid": false, "labelPadding": 2, "labelExpr": "['10⁰','10⁻¹','10⁻²','10⁻³','10⁻⁴','10⁻⁵','10⁻⁶','10⁻⁷','10⁻⁸','10⁻⁹','10⁻¹⁰','10⁻¹¹','10⁻¹²','10⁻¹³'][round(-log(datum.value)/LN10)]", "title": "CO₂ Pressure [Torr]", "titleAngle": 270, "titleBaseline": "top", "titlePadding": 18}}}},
    {"data": {"values": [{}]}, "mark": {"type": "point", "opacity": 0},
     "encoding": {
       "x": {"datum": 200, "type": "quantitative", "scale": {"type": "linear", "domain": [100, 450], "nice": false, "zero": false},
             "axis": {"orient": "top", "values": [110,120,130,140,160,170,180,190,210,220,230,240,260,270,280,290,310,320,330,340,360,370,380,390,410,420,430,440], "labels": false, "domain": false, "grid": false, "tickSize": 5, "tickColor": "#111", "tickWidth": 1.3, "title": null}},
       "y": {"datum": 1e-9, "type": "quantitative", "scale": {"type": "log", "domain": [7.9e-13, 7.9e-7], "nice": false},
             "axis": {"orient": "right", "values": [8e-13,9e-13,2e-12,3e-12,4e-12,5e-12,6e-12,7e-12,8e-12,9e-12,2e-11,3e-11,4e-11,5e-11,6e-11,7e-11,8e-11,9e-11,2e-10,3e-10,4e-10,5e-10,6e-10,7e-10,8e-10,9e-10,2e-9,3e-9,4e-9,5e-9,6e-9,7e-9,8e-9,9e-9,2e-8,3e-8,4e-8,5e-8,6e-8,7e-8,8e-8,9e-8,2e-7,3e-7,4e-7,5e-7,6e-7,7e-7], "labels": false, "domain": false, "grid": false, "tickSize": 6, "tickColor": "#111", "tickWidth": 1.3, "title": null}}}},
    {"data": {"name": "xmaj"}, "mark": {"type": "tick", "orient": "vertical", "size": 18, "thickness": 1.3, "color": "#111", "opacity": 1},
     "encoding": {"x": {"field": "v", "type": "quantitative", "scale": {"type": "linear", "domain": [100, 450], "nice": false, "zero": false}, "axis": null},
                  "y": {"datum": 1e-7, "type": "quantitative", "scale": {"type": "log", "domain": [1e-7, 0.1], "nice": false}, "axis": null}}},
    {"data": {"name": "xmaj"}, "mark": {"type": "tick", "orient": "vertical", "size": 18, "thickness": 1.3, "color": "#111", "opacity": 1},
     "encoding": {"x": {"field": "v", "type": "quantitative", "scale": {"type": "linear", "domain": [100, 450], "nice": false, "zero": false}, "axis": null},
                  "y": {"datum": 0.1, "type": "quantitative", "scale": {"type": "log", "domain": [1e-7, 0.1], "nice": false}, "axis": null}}},
    {"data": {"name": "xmin"}, "mark": {"type": "tick", "orient": "vertical", "size": 10, "thickness": 1.3, "color": "#111", "opacity": 1},
     "encoding": {"x": {"field": "v", "type": "quantitative", "scale": {"type": "linear", "domain": [100, 450], "nice": false, "zero": false}, "axis": null},
                  "y": {"datum": 1e-7, "type": "quantitative", "scale": {"type": "log", "domain": [1e-7, 0.1], "nice": false}, "axis": null}}},
    {"data": {"name": "xmin"}, "mark": {"type": "tick", "orient": "vertical", "size": 10, "thickness": 1.3, "color": "#111", "opacity": 1},
     "encoding": {"x": {"field": "v", "type": "quantitative", "scale": {"type": "linear", "domain": [100, 450], "nice": false, "zero": false}, "axis": null},
                  "y": {"datum": 0.1, "type": "quantitative", "scale": {"type": "log", "domain": [1e-7, 0.1], "nice": false}, "axis": null}}},
    {"data": {"name": "yl_maj"}, "mark": {"type": "tick", "orient": "horizontal", "size": 18, "thickness": 1.3, "color": "#111", "opacity": 1},
     "encoding": {"x": {"datum": 100, "type": "quantitative", "scale": {"type": "linear", "domain": [100, 450], "nice": false, "zero": false}, "axis": null},
                  "y": {"field": "v", "type": "quantitative", "scale": {"type": "log", "domain": [1e-7, 0.1], "nice": false}, "axis": null}}},
    {"data": {"name": "yl_min"}, "mark": {"type": "tick", "orient": "horizontal", "size": 12, "thickness": 1.3, "color": "#111", "opacity": 1},
     "encoding": {"x": {"datum": 100, "type": "quantitative", "scale": {"type": "linear", "domain": [100, 450], "nice": false, "zero": false}, "axis": null},
                  "y": {"field": "v", "type": "quantitative", "scale": {"type": "log", "domain": [1e-7, 0.1], "nice": false}, "axis": null}}},
    {"data": {"name": "yr_maj"}, "mark": {"type": "tick", "orient": "horizontal", "size": 18, "thickness": 1.3, "color": "#111", "opacity": 1},
     "encoding": {"x": {"datum": 450, "type": "quantitative", "scale": {"type": "linear", "domain": [100, 450], "nice": false, "zero": false}, "axis": null},
                  "y": {"field": "v", "type": "quantitative", "scale": {"type": "log", "domain": [7.9e-13, 7.9e-7], "nice": false}, "axis": null}}},
    {"data": {"name": "yrd_min"}, "mark": {"type": "tick", "orient": "horizontal", "size": 12, "thickness": 1.3, "color": "#111", "opacity": 1},
     "encoding": {"x": {"datum": 450, "type": "quantitative", "scale": {"type": "linear", "domain": [100, 450], "nice": false, "zero": false}, "axis": null},
                  "y": {"field": "v", "type": "quantitative", "scale": {"type": "log", "domain": [7.9e-13, 7.9e-7], "nice": false}, "axis": null}}},
    {"data": {"name": "d"}, "mark": {"type": "line", "strokeWidth": 1.3},
     "encoding": {
       "x": {"field": "t", "type": "quantitative", "scale": {"type": "linear", "domain": [100, 450], "nice": false, "zero": false}, "axis": null},
       "y": {"field": "v", "type": "quantitative", "scale": {"type": "log", "domain": [1e-7, 0.1], "nice": false}, "axis": null},
       "color": {"field": "s", "type": "nominal", "scale": {"domain": ["St. Steel","Ti-Zr","Pd"], "range": ["#111","#222","#9a9a9a"]}, "legend": null}}},
    {"data": {"name": "d"}, "mark": {"type": "point", "filled": true, "opacity": 1, "size": 110, "strokeWidth": 1.2},
     "encoding": {
       "x": {"field": "t", "type": "quantitative", "scale": {"type": "linear", "domain": [100, 450], "nice": false, "zero": false}, "axis": null},
       "y": {"field": "v", "type": "quantitative", "scale": {"type": "log", "domain": [1e-7, 0.1], "nice": false}, "axis": null},
       "shape": {"field": "s", "type": "nominal", "scale": {"domain": ["St. Steel","Ti-Zr","Pd"], "range": ["circle","square","triangle-up"]}, "legend": null},
       "fill": {"field": "s", "type": "nominal", "scale": {"domain": ["St. Steel","Ti-Zr","Pd"], "range": ["#000","#fff","#9a9a9a"]}, "legend": null},
       "stroke": {"field": "s", "type": "nominal", "scale": {"domain": ["St. Steel","Ti-Zr","Pd"], "range": ["#000","#222","#9a9a9a"]}, "legend": null}}},
    {"data": {"name": "d_lab"}, "transform": [{"filter": "datum.k === 'series'"}],
     "mark": {"type": "text", "fontWeight": "bold", "fontSize": 21, "align": "center", "baseline": "middle", "color": "#111"},
     "encoding": {
       "x": {"field": "t", "type": "quantitative", "scale": {"type": "linear", "domain": [100, 450], "nice": false, "zero": false}, "axis": null},
       "y": {"field": "v", "type": "quantitative", "scale": {"type": "log", "domain": [1e-7, 0.1], "nice": false}, "axis": null},
       "text": {"field": "txt"}}},
    {"data": {"name": "d_lab"}, "transform": [{"filter": "datum.k === 'gas'"}],
     "mark": {"type": "text", "fontWeight": "bold", "fontSize": 30, "align": "center", "baseline": "middle", "color": "#111"},
     "encoding": {
       "x": {"field": "t", "type": "quantitative", "scale": {"type": "linear", "domain": [100, 450], "nice": false, "zero": false}, "axis": null},
       "y": {"field": "v", "type": "quantitative", "scale": {"type": "log", "domain": [1e-7, 0.1], "nice": false}, "axis": null},
       "text": {"field": "txt"}}},
    {"data": {"name": "d_lab"}, "transform": [{"filter": "datum.k === 'sub'"}],
     "mark": {"type": "text", "fontWeight": "bold", "fontSize": 19, "align": "center", "baseline": "middle", "color": "#111"},
     "encoding": {
       "x": {"field": "t", "type": "quantitative", "scale": {"type": "linear", "domain": [100, 450], "nice": false, "zero": false}, "axis": null},
       "y": {"field": "v", "type": "quantitative", "scale": {"type": "log", "domain": [1e-7, 0.1], "nice": false}, "axis": null},
       "text": {"field": "txt"}}}
  ]
}
]
}
